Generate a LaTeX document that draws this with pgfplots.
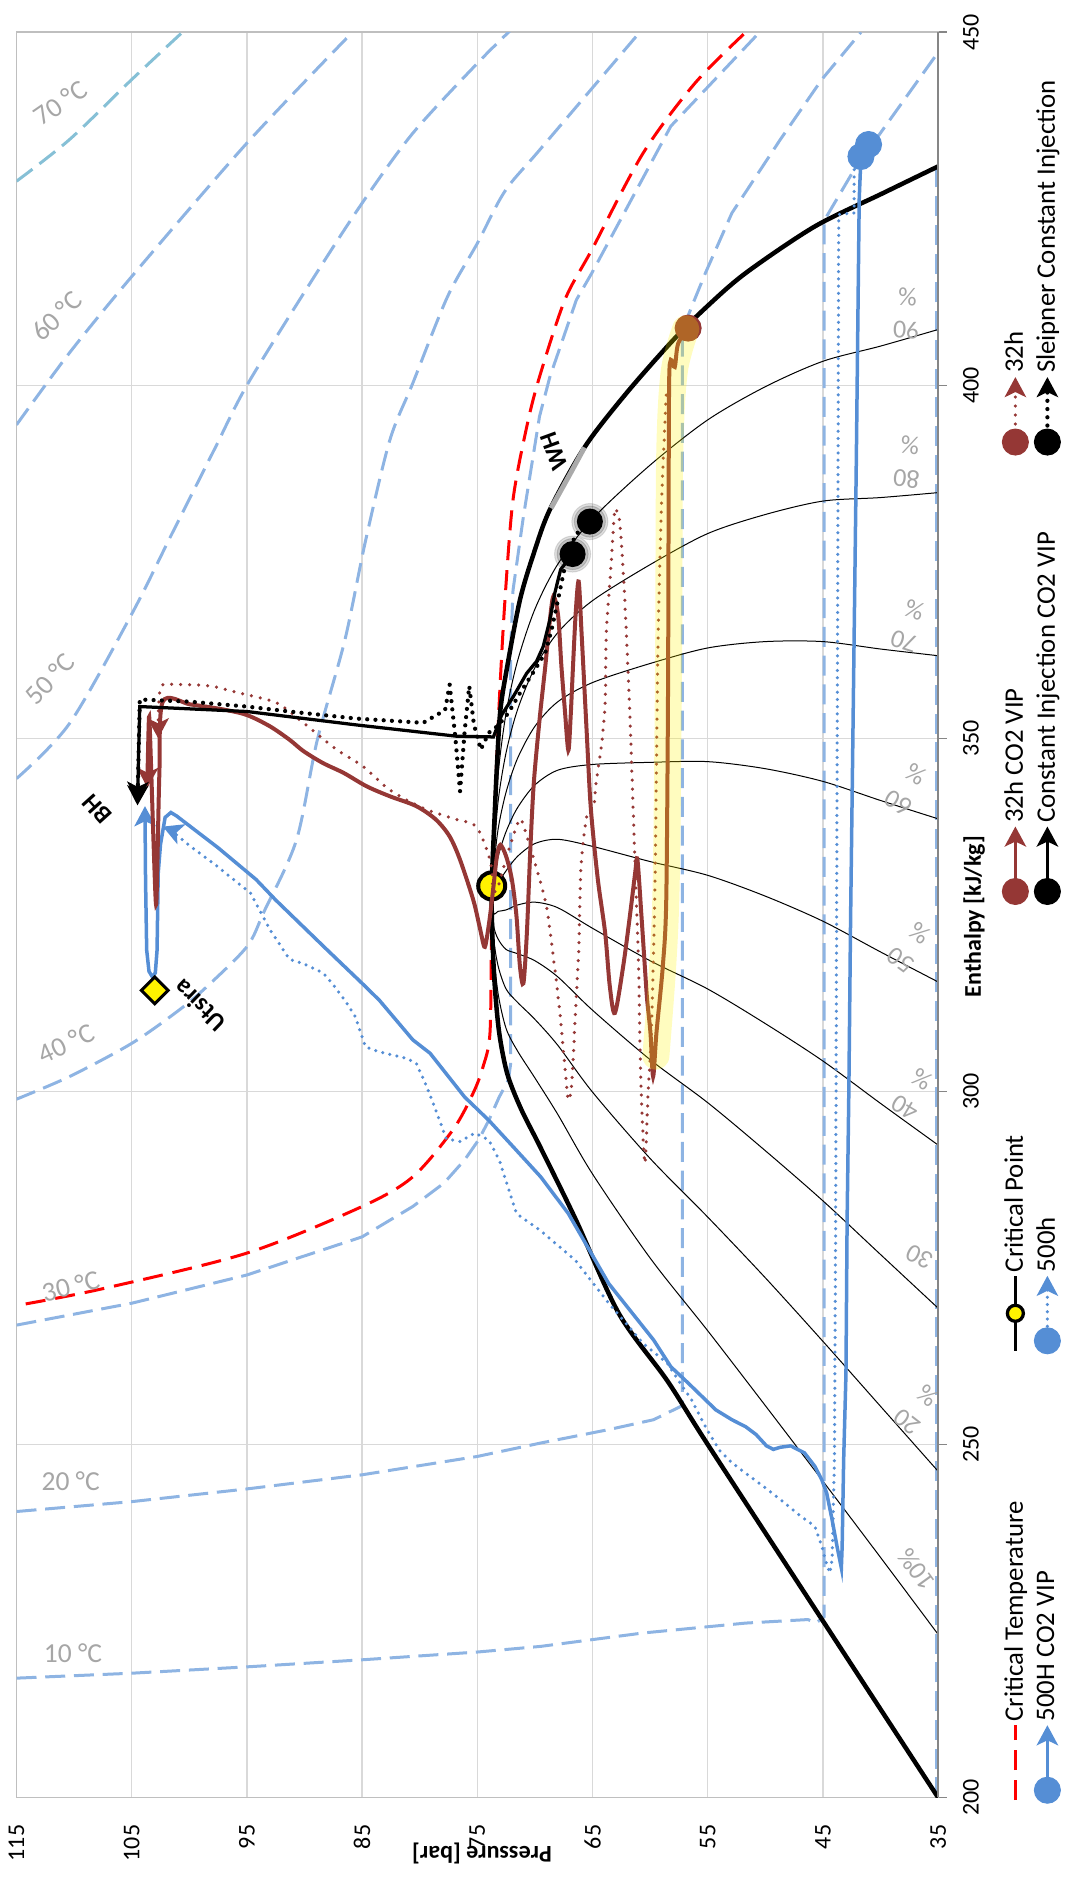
\documentclass[border=0pt]{standalone}
\usepackage{fontspec}
\setmainfont{Carlito}
\usepackage{pgfplots}
\pgfplotsset{compat=1.18}
\usetikzlibrary{arrows.meta}
\definecolor{isob}{RGB}{142,180,227}
\definecolor{iso70}{RGB}{134,192,214}
\definecolor{serb}{RGB}{85,142,213}
\definecolor{serbr}{RGB}{149,55,53}
\definecolor{lblg}{RGB}{166,166,166}
\definecolor{gridc}{RGB}{217,217,217}
\definecolor{bordc}{RGB}{191,191,191}
\definecolor{axc}{RGB}{134,134,134}
\definecolor{wgray}{RGB}{170,170,170}
\tikzset{
 iso/.style={isob, line width=1.2pt, dash pattern=on 8pt off 3.5pt},
 arr/.style={-{Stealth[length=8pt,width=8.5pt,inset=2pt]}},
 dotb/.style={line width=1.4pt, dash pattern=on 0pt off 2.9pt, line cap=round},
 dotbr/.style={line width=1.4pt, dash pattern=on 0pt off 3.6pt, line cap=round},
 dotk/.style={line width=1.7pt, dash pattern=on 0pt off 3.3pt, line cap=round},
 qual/.style={black, line width=0.4pt},
 plbl/.style={lblg, font=\fontsize{10.4}{13.5}\selectfont, align=center, inner sep=0pt},
 tlbl/.style={lblg, font=\fontsize{11}{13}\selectfont, inner sep=0pt},
 blbl/.style={black, font=\bfseries\fontsize{10}{12}\selectfont, inner sep=0pt},
}
\pgfplotsset{
 lgCT/.style={legend image code/.code={\draw[red, line width=1.2pt, dash pattern=on 8pt off 4pt] (-4pt,0pt) -- (26pt,0pt);}},
 lgCP/.style={legend image code/.code={\draw[black, line width=1.3pt] (-4pt,0pt) -- (26pt,0pt); \draw[black, line width=1.3pt, fill=yellow] (11pt,0pt) circle (3.2pt);}},
 lgBr/.style={legend image code/.code={\draw[serbr, line width=1.5pt, arr] (0pt,0pt) -- (26pt,0pt); \fill[serbr] (0pt,0pt) circle (5.2pt);}},
 lgBrD/.style={legend image code/.code={\draw[serbr, dotbr, arr] (0pt,0pt) -- (26pt,0pt); \fill[serbr] (0pt,0pt) circle (5.2pt);}},
 lgB/.style={legend image code/.code={\draw[serb, line width=1.5pt, arr] (0pt,0pt) -- (26pt,0pt); \fill[serb] (0pt,0pt) circle (5.2pt);}},
 lgBD/.style={legend image code/.code={\draw[serb, dotb, arr] (0pt,0pt) -- (26pt,0pt); \fill[serb] (0pt,0pt) circle (5.2pt);}},
 lgK/.style={legend image code/.code={\draw[black, line width=1.5pt, arr] (0pt,0pt) -- (26pt,0pt); \fill[black] (0pt,0pt) circle (5.2pt);}},
 lgKD/.style={legend image code/.code={\draw[black, dotk, arr] (0pt,0pt) -- (26pt,0pt); \fill[black] (0pt,0pt) circle (5.2pt);}},
}
\begin{document}
\begin{tikzpicture}[rotate=90, transform shape]
\useasboundingbox (-33pt,-56pt) rectangle (718.9pt,375.2pt);
\begin{axis}[
  at={(0,0)}, anchor=south west,
  scale only axis, width=706pt, height=368.6pt,
  xmin=200, xmax=450, ymin=35, ymax=115,
  xtick={200,250,...,450}, ytick={35,45,...,115},
  grid=major, major grid style={draw=gridc, line width=0.5pt},
  axis line style={draw=bordc, line width=0.6pt},
  tick align=outside, xtick pos=left, ytick pos=left,
  xtick style={draw=axc, line width=0.6pt},
  major tick length=3.4pt,
  ytick style={draw=none},
  /pgf/number format/assume math mode=true,
  ticklabel style={font=\fontsize{9.6}{11}\selectfont, black},
  xticklabel style={yshift=-3pt},
  yticklabel style={xshift=-4pt},
  xlabel={Enthalpy [kJ/kg]},
  xlabel style={at={(axis description cs:0.499,0)}, anchor=center, yshift=-14.4pt, font=\bfseries\fontsize{9.6}{11}\selectfont},
  ylabel={Pressure [bar]},
  ylabel style={at={([xshift=-22.4pt]axis description cs:0,0.495)}, anchor=center, font=\bfseries\fontsize{9.6}{11}\selectfont},
  clip mode=individual,
  legend columns=4,
  legend cell align=left,
  legend style={draw=none, fill=none, inner sep=0pt, outer sep=0pt,
    at={(axis description cs:0,0)}, anchor=north west, xshift=-2.5pt, yshift=-25.5pt,
    font=\fontsize{10.7}{12}\selectfont, row sep=2pt,
    nodes={inner sep=0.8pt},
    /tikz/every even column/.append style={column sep=0pt}},
]
% legend
\addlegendimage{lgCT}\addlegendentry{\makebox[146pt][l]{Critical Temperature}}
\addlegendimage{lgCP}\addlegendentry{\makebox[146pt][l]{Critical Point}}
\addlegendimage{lgBr}\addlegendentry{\makebox[146pt][l]{32h CO2 VIP}}
\addlegendimage{lgBrD}\addlegendentry{\makebox[146pt][l]{32h}}
\addlegendimage{lgB}\addlegendentry{\makebox[146pt][l]{500H CO2 VIP}}
\addlegendimage{lgBD}\addlegendentry{\makebox[146pt][l]{500h}}
\addlegendimage{lgK}\addlegendentry{\makebox[146pt][l]{Constant Injection CO2 VIP}}
\addlegendimage{lgKD}\addlegendentry{\makebox[146pt][l]{Sleipner Constant Injection}}

% ---------- isotherms ----------
\addplot[iso, forget plot] table[x=h,y=p,row sep=\\]{p h\\ 35.15 200\\ 35.15 431\\};
\addplot[iso, forget plot] table[x=h,y=p,row sep=\\]{p h\\
115 216.9\\ 105 217.6\\ 95 218.5\\ 85 219.5\\ 75 220.6\\ 69.5 221.4\\ 60.6 223.3\\ 51.7 224.7\\ 46.3 225.2\\ 45.6 224.7\\ 44.9 225.6\\ 44.9 423.3\\ 42.3 430.5\\ 39.8 436.2\\ 34.85 447.5\\};
\addplot[iso, forget plot] table[x=h,y=p,row sep=\\]{p h\\
115 240.5\\ 105 241.9\\ 95 243.7\\ 85 245.7\\ 75 248.3\\ 69.5 250.2\\ 63.6 252.1\\ 59.7 253.5\\ 57.2 255.5\\ 57.2 407.8\\ 56.3 411.5\\ 55.2 415.9\\ 52.9 424.4\\ 48.7 434.8\\ 45.1 443.3\\ 41.7 450\\};
\addplot[iso, forget plot] table[x=h,y=p,row sep=\\]{p h\\
115 266.9\\ 105 270\\ 95 274\\ 85 279.4\\ 80.6 283.7\\ 77.9 287\\ 76.1 290.3\\ 74.9 293.1\\ 74.0 295.9\\ 73.1 299.2\\ 72.3 301.6\\ 72.1 304\\ 72.1 362.8\\ 71.9 371\\ 71.0 381.4\\ 69.6 395.6\\ 68.7 401.2\\ 66.4 412.1\\ 65.06 415.9\\ 58.2 436.7\\ 50.5 450\\};
\addplot[iso, forget plot, smooth, tension=0.5] table[x=h,y=p,row sep=\\]{p h\\
115 298.9\\ 110.4 302.1\\ 105 306.8\\ 100.9 311.5\\ 98.5 314.8\\ 95 320.5\\ 93.5 325.5\\ 90.7 335.6\\ 88.9 349.7\\ 86.5 363.9\\ 84.7 378\\ 82.6 392.2\\ 80.6 400.3\\ 77.6 412.5\\ 75 420.1\\ 72.6 427.5\\ 69.5 433.5\\ 60.9 450\\};
\addplot[iso, forget plot, smooth, tension=0.5] table[x=h,y=p,row sep=\\]{p h\\
115 344.3\\ 110.4 352.1\\ 105 367.6\\ 101.5 379\\ 97.8 391\\ 95 400\\ 89.5 414.5\\ 85 425.8\\ 80.6 435.7\\ 75 445.6\\ 72.1 450.3\\};
\addplot[iso, forget plot, smooth, tension=0.5] table[x=h,y=p,row sep=\\]{p h\\
115 394.4\\ 110.4 404.6\\ 105 415.4\\ 95 434.3\\ 85.9 449.9\\};
\addplot[iso, iso70, forget plot, smooth, tension=0.5] table[x=h,y=p,row sep=\\]{p h\\
115 428.9\\ 110.4 434.8\\ 105 443.3\\ 100.6 450\\};
% critical temperature
\addplot[red, line width=1.2pt, dash pattern=on 8pt off 4pt, forget plot, smooth, tension=0.5] table[x=h,y=p,row sep=\\]{p h\\
114.2 269.9\\ 107.4 272.1\\ 95 277.1\\ 85 283.7\\ 80.6 287.9\\ 77.1 294.6\\ 75.35 299.8\\ 74.5 303.5\\ 73.9 308.3\\ 73.76 322.4\\ 73.5 338.9\\ 73.1 355\\ 72.6 369.6\\ 71.9 383.8\\ 70.7 394.2\\ 69.6 401.2\\ 67.4 412.1\\ 65.06 419.2\\ 60.6 432.9\\ 56.1 442.8\\ 51.7 450\\};

% ---------- saturation dome ----------
\addplot[black, line width=1.8pt, forget plot, smooth, tension=0.5] table[x=h,y=p,row sep=\\]{p h\\
35 200\\ 45 225\\ 55 250\\ 58.5 259\\ 62.7 268.5\\ 66.5 282\\ 69.5 292\\ 71.2 297.5\\ 72.4 302.5\\ 73.1 308.3\\ 73.5 315.3\\ 73.7 322.4\\ 73.75 329.1\\ 73.5 338.9\\ 73.3 346\\ 73.0 354\\ 72.4 360.2\\ 71.3 369.6\\ 70.1 376.2\\ 68.7 382.4\\ 65.66 391.3\\ 62.05 398.9\\ 58.0 406.4\\ 55.1 411.1\\ 51.7 415.9\\ 45.7 422.5\\ 39.8 427.2\\ 35 431\\};
\addplot[wgray, line width=2pt, forget plot, smooth] table[x=h,y=p,row sep=\\]{p h\\ 68.6 382.6\\ 67.1 387\\ 65.7 391.2\\};

% ---------- quality lines ----------
\addplot[qual, forget plot, smooth, tension=0.5] table[x=h,y=p,row sep=\\]{p h\\ 35 223.1\\ 40 234.0\\ 45 244.8\\ 50 255.5\\ 55 266.1\\ 60 276.4\\ 65 288.3\\ 68 296.7\\ 70 301.9\\ 71.5 305.7\\ 72.5 308.9\\ 73.2 313.9\\ 73.6 320.5\\ 73.75 329.1\\};
\addplot[qual, forget plot, smooth, tension=0.5] table[x=h,y=p,row sep=\\]{p h\\ 35 246.2\\ 40 255.4\\ 45 264.6\\ 50 273.6\\ 55 282.2\\ 60 290.5\\ 65 299.9\\ 68 306.5\\ 70 310.2\\ 71.5 312.6\\ 72.5 314.5\\ 73.2 317.8\\ 73.6 322.1\\ 73.75 329.1\\};
\addplot[qual, forget plot, smooth, tension=0.5] table[x=h,y=p,row sep=\\]{p h\\ 35 269.3\\ 40 276.9\\ 45 284.5\\ 50 291.6\\ 55 298.4\\ 60 304.5\\ 65 311.5\\ 68 316.2\\ 70 318.5\\ 71.5 319.5\\ 72.5 320.1\\ 73.2 321.6\\ 73.6 323.7\\ 73.75 329.1\\};
\addplot[qual, forget plot, smooth, tension=0.5] table[x=h,y=p,row sep=\\]{p h\\ 35 292.4\\ 40 298.3\\ 45 304.3\\ 50 309.6\\ 55 314.5\\ 60 318.5\\ 65 323.1\\ 68 326.0\\ 70 326.8\\ 71.5 326.4\\ 72.5 325.7\\ 73.2 325.5\\ 73.6 325.3\\ 73.75 329.1\\};
\addplot[qual, forget plot, smooth, tension=0.5] table[x=h,y=p,row sep=\\]{p h\\ 35 315.5\\ 40 319.75\\ 45 324.1\\ 50 327.65\\ 55 330.6\\ 60 332.55\\ 65 334.7\\ 68 335.7\\ 70 335.1\\ 71.5 333.3\\ 72.5 331.25\\ 73.2 329.4\\ 73.6 327.5\\ 73.75 329.1\\};
\addplot[qual, forget plot, smooth, tension=0.5] table[x=h,y=p,row sep=\\]{p h\\ 35 338.6\\ 40 341.2\\ 45 343.9\\ 50 345.7\\ 55 346.7\\ 60 346.6\\ 65 346.3\\ 68 345.5\\ 70 343.4\\ 71.5 340.2\\ 72.5 336.8\\ 73.2 333.2\\ 73.6 329.5\\ 73.75 329.1\\};
\addplot[qual, forget plot, smooth, tension=0.5] table[x=h,y=p,row sep=\\]{p h\\ 35 361.7\\ 40 362.65\\ 45 363.7\\ 50 363.7\\ 55 362.8\\ 60 360.6\\ 65 357.9\\ 68 355.2\\ 70 351.7\\ 71.5 347.2\\ 72.5 342.4\\ 73.2 337.1\\ 73.6 331.2\\ 73.75 329.1\\};
\addplot[qual, forget plot, smooth, tension=0.5] table[x=h,y=p,row sep=\\]{p h\\ 35 384.8\\ 40 384.1\\ 45 383.6\\ 50 381.7\\ 55 379.0\\ 60 374.6\\ 65 369.5\\ 68 365.0\\ 70 360.0\\ 71.5 354.1\\ 72.5 348.0\\ 73.2 341.0\\ 73.6 332.5\\ 73.75 329.1\\};
\addplot[qual, forget plot, smooth, tension=0.5] table[x=h,y=p,row sep=\\]{p h\\ 35 407.9\\ 40 405.55\\ 45 403.4\\ 50 399.8\\ 55 395.1\\ 60 388.7\\ 65 381.1\\ 68 374.7\\ 70 368.3\\ 71.5 361.0\\ 72.5 353.6\\ 73.2 344.8\\ 73.6 334\\ 73.75 329.1\\};

% critical point
\addplot[only marks, mark=*, mark size=5.4pt, mark options={fill=yellow, draw=black, line width=1.6pt}, forget plot] coordinates {(329.1,73.75)};

% ---------- 500H CO2 VIP (blue solid) ----------
\addplot[serb, line width=1.4pt, arr, forget plot] table[x=h,y=p,row sep=\\]{p h\\
41.7 432.4\\ 41.85 426.3\\ 42.1 389.5\\ 42.4 350\\ 42.6 324.2\\ 42.75 300\\ 42.9 281.8\\ 43.0 260\\ 43.2 247.8\\ 43.33 235.6\\ 43.4 232.5\\ 43.78 235.6\\ 44.2 239.3\\ 44.67 243.1\\ 45.1 245\\ 45.7 246.9\\ 46.6 248.8\\ 47.8 249.8\\ 48.7 249.6\\ 49.3 249.3\\ 49.9 249.8\\ 50.8 251.4\\ 51.7 252.5\\ 52.9 253.5\\ 54.3 254.9\\ 55.5 256.8\\ 56.7 258.7\\ 58.2 261.0\\ 59.7 264.8\\ 63.6 272.8\\ 67.1 282.7\\ 69.5 287.9\\ 71.8 292\\ 74.0 295.9\\ 76.1 299.2\\ 79.1 305.4\\ 80.6 307.3\\ 83.5 312.9\\ 85.0 315.3\\ 88.2 320.3\\ 92.5 327.1\\ 94.2 330\\ 97.5 334.5\\ 101.1 339\\ 101.6 339.5\\ 102.1 338.8\\ 102.5 335\\ 102.7 330.9\\ 102.8 320\\ 102.95 316.8\\ 103.2 316.2\\ 103.5 317\\ 103.7 320\\ 103.8 330\\ 103.85 340.4\\};
% ---------- 500h (blue dotted) ----------
\addplot[serb, dotb, arr, forget plot] table[x=h,y=p,row sep=\\]{p h\\
41.04 434.1\\ 42.29 430.5\\ 42.29 424.4\\ 43.63 424.2\\ 43.7 380\\ 43.8 330\\ 43.9 280\\ 44.0 247.8\\ 44.2 233.7\\ 44.4 231.8\\ 44.8 233.7\\ 45.1 235.6\\ 45.7 238.4\\ 46.9 239.8\\ 48.7 242.2\\ 50.2 244.1\\ 51.7 245.9\\ 52.9 247.4\\ 54.0 249.2\\ 55.2 252.5\\ 56.4 256.3\\ 57.6 259.2\\ 58.5 261.5\\ 60.6 264.3\\ 63.6 270\\ 66.5 276.1\\ 69.6 280.4\\ 71.6 282.7\\ 73.1 290.3\\ 74.0 293.1\\ 75.2 294.1\\ 76.5 292.9\\ 77.7 293.3\\ 78.5 296.9\\ 79.4 300.7\\ 80.3 304\\ 81.2 304.7\\ 83.5 305.6\\ 84.7 306.3\\ 85.6 310.6\\ 86.5 312.9\\ 87.7 315.5\\ 88.4 316.8\\ 90.1 318.1\\ 91.3 318.7\\ 93.0 322.9\\ 94.7 328.1\\ 97.6 331.9\\ 99.9 334.7\\ 101.7 337.1\\ 102.3 337.5\\};

% ---------- 32h CO2 VIP (brown solid) ----------
\addplot[serbr, line width=1.6pt, arr, smooth, tension=0.5, forget plot] table[x=h,y=p,row sep=\\]{p h\\
56.7 408.1\\ 57.57 405.9\\ 57.86 402.6\\ 58.2 403.6\\ 58.35 400.3\\ 58.4 380\\ 58.45 355.4\\ 58.6 327.1\\ 58.9 317.7\\ 59.45 308.3\\ 59.74 302.1\\ 59.97 308.3\\ 60.26 313\\ 60.46 317.7\\ 60.75 324.8\\ 61.1 332.8\\ 61.3 330.9\\ 61.76 324.8\\ 62.34 317.7\\ 63.06 311.1\\ 63.5 314.9\\ 63.9 322.4\\ 64.5 329.5\\ 64.9 335.6\\ 65.2 341.3\\ 65.5 350.7\\ 65.95 364.9\\ 66.2 372.2\\ 66.45 368\\ 66.7 360\\ 66.9 353\\ 67.1 348.3\\ 67.4 354\\ 67.7 360.2\\ 67.98 367.3\\ 68.4 370.1\\ 68.75 366\\ 69.1 360.2\\ 69.6 352.6\\ 70.1 343.6\\ 70.4 334.2\\ 70.7 322.4\\ 71.0 315.3\\ 71.3 317.7\\ 71.6 324.8\\ 72.0 330\\ 72.5 333.3\\ 73.0 334.9\\ 73.3 333.3\\ 73.6 329\\ 73.9 324.8\\ 74.2 321.5\\ 74.4 320.5\\ 74.8 323.3\\ 75.35 327.1\\ 76.5 332.8\\ 77.4 336.1\\ 78.6 338.5\\ 80.3 340.4\\ 82.6 341.8\\ 84.6 343.2\\ 86.6 345.1\\ 88.4 346.5\\ 90.1 348.2\\ 91.3 349.8\\ 93.0 351.7\\ 95.0 353.3\\ 97.1 354.1\\ 99.9 354.8\\ 102.3 355.2\\ 102.6 345\\ 102.8 330\\ 102.9 326.6\\ 103.1 335\\ 103.4 350\\ 103.5 353\\ 103.6 347\\ 103.65 343\\};
% ---------- 32h (brown dotted) ----------
\addplot[serbr, dotbr, arr, smooth, tension=0.5, forget plot] table[x=h,y=p,row sep=\\]{p h\\
58.6 398.6\\ 59.0 383.8\\ 59.3 364.9\\ 59.45 346\\ 59.6 327.1\\ 59.9 308.3\\ 60.2 298.8\\ 60.45 289.8\\ 60.75 298.8\\ 60.9 308.3\\ 61.0 317.7\\ 61.3 331.8\\ 61.6 346\\ 61.8 355\\ 62.2 369.6\\ 62.6 380\\ 62.9 382.2\\ 63.1 381.9\\ 63.4 374.3\\ 63.8 364.9\\ 63.9 355.4\\ 64.2 349.3\\ 64.7 343.6\\ 64.9 340.3\\ 65.5 338.9\\ 66.0 331.8\\ 66.2 320\\ 66.5 310.6\\ 66.8 301.2\\ 67.1 298.8\\ 67.4 303.5\\ 67.8 310.6\\ 68.3 317.7\\ 69.0 326.2\\ 69.9 331.8\\ 70.6 335.6\\ 71.2 338.5\\ 71.6 337.5\\ 72.5 333\\ 73.2 329\\ 73.6 328.5\\ 73.9 332.8\\ 75.1 337.5\\ 76.8 338.5\\ 79.7 340.1\\ 82.6 342.7\\ 84.9 346\\ 87.2 348.4\\ 90.1 352.2\\ 92.4 355\\ 95.6 356.4\\ 98.2 357.4\\ 101.1 357.6\\ 102.5 357.1\\ 102.7 350\\};

% ---------- Constant Injection CO2 VIP (black solid) ----------
\addplot[black, line width=1.3pt, arr, forget plot] table[x=h,y=p,row sep=\\]{p h\\
66.73 376.1\\ 67.77 373.9\\ 68.27 370.6\\ 68.7 366.8\\ 69.28 363.0\\ 69.86 360.9\\ 70.72 359.2\\ 71.88 355.9\\ 72.89 353.3\\ 73.3 351.5\\ 73.6 350.2\\ 76.8 350.3\\ 85.5 351.9\\ 95.0 353.8\\ 104.3 354.5\\ 104.4 348\\ 104.5 340.5\\};
% ---------- Sleipner (black dotted) ----------
\addplot[black, dotk, arr, forget plot] table[x=h,y=p,row sep=\\]{p h\\
65.23 380.7\\ 66.5 378.8\\ 67.4 374.3\\ 68.0 369.6\\ 68.55 365.4\\ 69.1 362.1\\ 70.2 359.2\\ 71.3 356.4\\ 72.3 353.6\\ 73.2 351.8\\ 74.0 350.8\\ 74.7 348.4\\ 75.3 352\\ 75.7 357.4\\ 76.1 351\\ 76.5 342.5\\ 76.9 350\\ 77.4 357.6\\ 77.8 354\\ 79.7 352.2\\ 85.5 352.8\\ 91.3 353.8\\ 95.0 354.5\\ 100 355.2\\ 104.3 355.5\\ 104.4 348\\ 104.5 341\\};

% ---------- start markers ----------
\addplot[only marks, mark=*, mark size=5.2pt, serb, forget plot] coordinates {(432.4,41.7) (434.1,41.04)};
\addplot[only marks, mark=*, mark size=5.2pt, serbr, forget plot] coordinates {(408.1,56.7)};
\addplot[only marks, mark=*, mark size=7.2pt, black, opacity=0.12, forget plot] coordinates {(376.1,66.73) (380.7,65.23)};
\addplot[only marks, mark=*, mark size=6.2pt, black, opacity=0.15, forget plot] coordinates {(376.1,66.73) (380.7,65.23)};
\addplot[only marks, mark=*, mark size=5pt, black, forget plot] coordinates {(376.1,66.73) (380.7,65.23)};
\addplot[only marks, mark=square*, mark size=3.8pt, mark options={rotate=45, fill=yellow, draw=black, line width=1.2pt}, forget plot] coordinates {(314.3,103.0)};

% yellow highlight
\addplot[yellow, opacity=0.25, line width=10.8pt, line cap=round, smooth, forget plot] table[x=h,y=p,row sep=\\]{p h\\ 56.9 408\\ 57.9 402\\ 58.3 390\\ 58.4 360\\ 58.6 330\\ 58.9 318\\ 59.5 305\\};

% ---------- labels ----------
\node[tlbl, rotate=-55.5] at (axis cs:440,111.2) {70 °C};
\node[tlbl, rotate=-46] at (axis cs:409.8,111.5) {60 °C};
\node[tlbl, rotate=-43] at (axis cs:358.4,112.1) {50 °C};
\node[tlbl, rotate=-65] at (axis cs:306.8,110.7) {40 °C};
\node[tlbl, rotate=-76] at (axis cs:272.4,110.3) {30 °C};
\node[tlbl, rotate=-90] at (axis cs:244.8,110.3) {20 °C};
\node[tlbl, rotate=-90] at (axis cs:220.5,110.1) {10 °C};

\node[plbl, rotate=88] at (axis cs:410.2,37.7) {90\\\%};
\node[plbl, rotate=84] at (axis cs:389.1,37.6) {80\\\%};
\node[plbl, rotate=72] at (axis cs:366,37.5) {70\\\%};
\node[plbl, rotate=59] at (axis cs:342.9,37.7) {60\\\%};
\node[plbl, rotate=54] at (axis cs:320.5,37.4) {50\\\%};
\node[plbl, rotate=59] at (axis cs:299.7,37.1) {40\\\%};
\node[plbl, rotate=63] at (axis cs:276.6,36.6) {30};
\node[plbl, rotate=52] at (axis cs:255.1,36.8) {20\\\%};
\node[plbl, rotate=36] at (axis cs:232.3,36.9) {10\%};

\node[blbl, rotate=42] at (axis cs:340,108.0) {BH};
\node[blbl, rotate=20] at (axis cs:390.6,68.3) {WH};
\node[blbl, rotate=46] at (axis cs:312.1,99.1) {Utsira};

\draw[axc, line width=0.6pt] (rel axis cs:0,0) -- (rel axis cs:1,0);
\end{axis}
\end{tikzpicture}
\end{document}
